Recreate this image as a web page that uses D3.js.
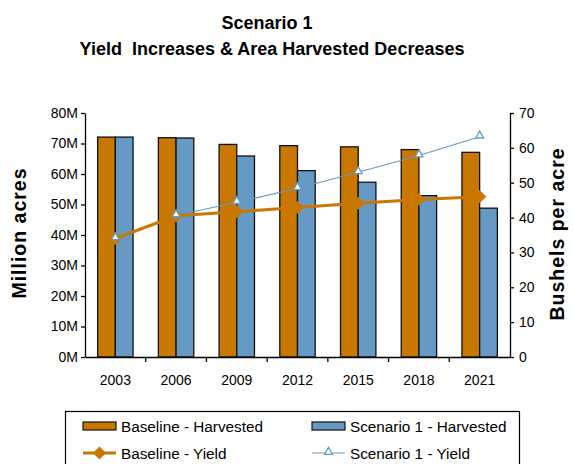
<!DOCTYPE html>
<html>
<head>
<meta charset="utf-8">
<script src="https://cdn.jsdelivr.net/npm/d3@7"></script>
<style>
  body { margin: 0; background: #fff; }
  text { font-family: "Liberation Sans", Arial, sans-serif; }
</style>
</head>
<body>
<div id="chart"></div>
<script>
// data
var years = ["2003", "2006", "2009", "2012", "2015", "2018", "2021"];
var baseHarvested = [72.1, 71.9, 69.7, 69.3, 68.9, 68.0, 67.1];   // million acres
var scenHarvested = [72.1, 71.8, 65.9, 61.1, 57.3, 52.9, 48.8];
var baseYield = [34.0, 40.5, 41.7, 42.9, 44.1, 45.2, 46.0];       // bushels per acre
var scenYield = [34.0, 40.6, 44.4, 48.4, 53.0, 57.8, 63.2];
var leftTicks = [0, 10, 20, 30, 40, 50, 60, 70, 80];
var rightTicks = [0, 10, 20, 30, 40, 50, 60, 70];

var orange = "#c87800", blue = "#6699c4";

var W = 573, H = 464;
var margin = {top: 113, right: 63, bottom: 107, left: 85},
    width = W - margin.left - margin.right,
    height = H - margin.top - margin.bottom;

var svg = d3.select("#chart").append("svg")
    .attr("width", W)
    .attr("height", H);

var g = svg.append("g")
    .attr("transform", "translate(" + margin.left + "," + margin.top + ")");

var x = d3.scaleBand().domain(years).range([0, width]);
var xb = d3.scaleBand().domain(["base", "scen"]).range([0, 35.4]);
var yL = d3.scaleLinear().domain([0, 80]).range([height, 0]);
var yR = d3.scaleLinear().domain([0, 70]).range([height, 0]);

// titles
svg.append("text").attr("x", 267).attr("y", 29)
    .attr("text-anchor", "middle").attr("font-size", 18).attr("font-weight", "bold")
    .text("Scenario 1");
svg.append("text").attr("x", 272).attr("y", 55)
    .attr("text-anchor", "middle").attr("font-size", 18).attr("font-weight", "bold")
    .style("white-space", "pre")
    .text("Yield  Increases & Area Harvested Decreases");

// bars
var rows = years.map(function(d, i) {
    return {year: d, base: baseHarvested[i], scen: scenHarvested[i]};
});
var groups = g.selectAll(".grp")
    .data(rows)
    .enter().append("g")
    .attr("transform", function(d) {
        return "translate(" + (x(d.year) + (x.bandwidth() - 35.4) / 2) + ",0)";
    });

groups.append("rect")
    .attr("x", xb("base"))
    .attr("y", function(d) { return yL(d.base); })
    .attr("width", xb.bandwidth())
    .attr("height", function(d) { return height - yL(d.base); })
    .attr("fill", orange).attr("stroke", "#111").attr("stroke-width", 1.3);
groups.append("rect")
    .attr("x", xb("scen"))
    .attr("y", function(d) { return yL(d.scen); })
    .attr("width", xb.bandwidth())
    .attr("height", function(d) { return height - yL(d.scen); })
    .attr("fill", blue).attr("stroke", "#111").attr("stroke-width", 1.3);

// lines
var cx = function(i) { return x(years[i]) + x.bandwidth() / 2; };
var line = d3.line()
    .x(function(d, i) { return cx(i); })
    .y(function(d) { return yR(d); });

g.append("path").datum(scenYield)
    .attr("d", line).attr("fill", "none")
    .attr("stroke", blue).attr("stroke-width", 1.2);
g.append("path").datum(baseYield)
    .attr("d", line).attr("fill", "none")
    .attr("stroke", orange).attr("stroke-width", 3);

var diamond = d3.symbol().type(d3.symbolDiamond2).size(110);
var tri = d3.symbol().type(d3.symbolTriangle2).size(45);

g.selectAll(".dmd").data(baseYield).enter().append("path")
    .attr("d", diamond)
    .attr("transform", function(d, i) { return "translate(" + cx(i) + "," + yR(d) + ")"; })
    .attr("fill", orange);
g.selectAll(".tri").data(scenYield).enter().append("path")
    .attr("d", tri)
    .attr("transform", function(d, i) { return "translate(" + cx(i) + "," + (yR(d) - 1) + ")"; })
    .attr("fill", "#fff").attr("stroke", blue).attr("stroke-width", 1.3);

// axes
var axL = g.append("g")
    .call(d3.axisLeft(yL).tickValues(leftTicks).tickSize(4).tickSizeOuter(0)
        .tickFormat(function(d) { return d + "M"; }));
var axR = g.append("g")
    .attr("transform", "translate(" + width + ",0)")
    .call(d3.axisRight(yR).tickValues(rightTicks).tickSize(4).tickSizeOuter(0));
var axB = g.append("g")
    .attr("transform", "translate(0," + height + ")")
    .call(d3.axisBottom(x).tickSize(0).tickPadding(18));

[axL, axR, axB].forEach(function(a) {
    a.select(".domain").attr("stroke", "#000").attr("stroke-width", 1.3);
    a.selectAll(".tick line").attr("stroke", "#000").attr("stroke-width", 1.3);
    a.selectAll("text").attr("font-size", 14).attr("fill", "#000")
        .attr("font-family", "'Liberation Sans', Arial, sans-serif");
});
axL.selectAll("text").attr("x", -7);
axR.selectAll("text").attr("x", 9);

// x boundary ticks between categories
g.selectAll(".xtick").data(years.slice(1)).enter().append("line")
    .attr("x1", function(d) { return x(d); }).attr("x2", function(d) { return x(d); })
    .attr("y1", height).attr("y2", height + 5)
    .attr("stroke", "#000").attr("stroke-width", 1.3);

// axis titles
svg.append("text")
    .attr("transform", "translate(26,233) rotate(-90)")
    .attr("text-anchor", "middle").attr("font-size", 19.5).attr("font-weight", "bold")
    .attr("letter-spacing", 1)
    .text("Million acres");
svg.append("text")
    .attr("transform", "translate(564,234) rotate(-90)")
    .attr("text-anchor", "middle").attr("font-size", 19.5).attr("font-weight", "bold")
    .attr("letter-spacing", 1)
    .text("Bushels per acre");

// legend
var leg = svg.append("g");
leg.append("rect").attr("x", 65.5).attr("y", 411.5).attr("width", 454).attr("height", 70)
    .attr("fill", "#fff").attr("stroke", "#000").attr("stroke-width", 1.2);

var legItems = [
    {label: "Baseline - Harvested", kind: "bar", color: orange, x: 83, y: 426},
    {label: "Scenario 1 - Harvested", kind: "bar", color: blue, x: 312, y: 426},
    {label: "Baseline - Yield", kind: "dline", color: orange, x: 83, y: 453},
    {label: "Scenario 1 - Yield", kind: "tline", color: blue, x: 312, y: 453}
];
legItems.forEach(function(it) {
    var li = leg.append("g").attr("transform", "translate(" + it.x + "," + it.y + ")");
    if (it.kind == "bar") {
        li.append("rect").attr("x", 0).attr("y", -4).attr("width", 33).attr("height", 8)
            .attr("fill", it.color).attr("stroke", "#111").attr("stroke-width", 1.2);
    } else if (it.kind == "dline") {
        li.append("line").attr("x1", 0).attr("x2", 33).attr("y1", 0).attr("y2", 0)
            .attr("stroke", it.color).attr("stroke-width", 3);
        li.append("path").attr("d", diamond).attr("transform", "translate(16.5,0)").attr("fill", it.color);
    } else {
        li.append("line").attr("x1", 0).attr("x2", 33).attr("y1", 0).attr("y2", 0)
            .attr("stroke", it.color).attr("stroke-width", 1.2);
        li.append("path").attr("d", tri).attr("transform", "translate(16.5,-1)")
            .attr("fill", "#fff").attr("stroke", it.color).attr("stroke-width", 1.3);
    }
    li.append("text").attr("x", 38).attr("y", 5.5).attr("font-size", 15.3).text(it.label);
});
</script>
</body>
</html>
